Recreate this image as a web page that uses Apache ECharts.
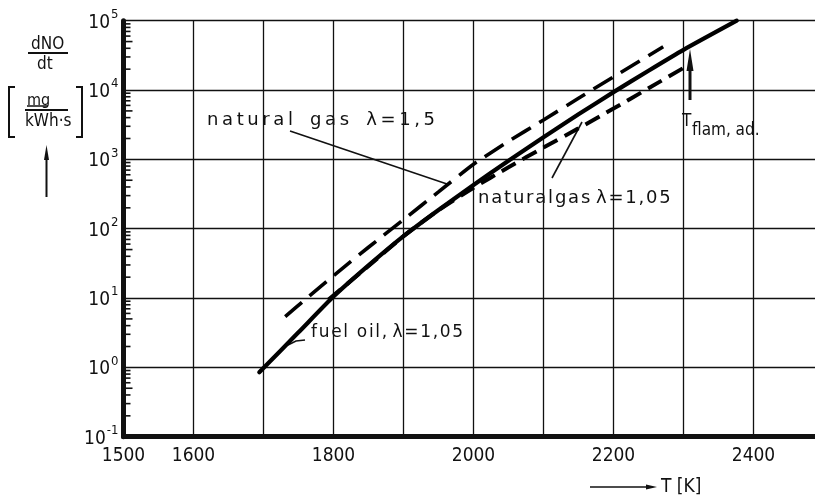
<!DOCTYPE html>
<html>
<head>
<meta charset="utf-8">
<script src="https://cdn.jsdelivr.net/npm/echarts@6/dist/echarts.min.js"></script>
<style>
  html, body { margin: 0; padding: 0; background: #fff; }
  #chart { width: 815px; height: 500px; }
</style>
</head>
<body>
<div id="chart"></div>
<script>
// NO formation rate dNO/dt versus flame temperature T
const xTickLabels = [1500, 1600, 1800, 2000, 2200, 2400];

// fuel oil, lambda = 1.05 (solid)
const fuelOilT   = [1694, 1750, 1800, 1850, 1900, 1950, 2000, 2050, 2100, 2150, 2200, 2250, 2300, 2376];
const fuelOilNO  = [0.85, 3.2, 10.5, 29.5, 78, 186, 427, 955, 2090, 4470, 9330, 19000, 38000, 100000];

// natural gas, lambda = 1.5 (upper dashed)
const gasLeanT   = [1731, 1762, 1800, 1850, 1900, 1950, 2000, 2050, 2100, 2150, 2200, 2271];
const gasLeanNO  = [5.4, 10, 21, 54, 135, 340, 850, 1820, 3700, 7600, 15500, 42000];

// natural gas, lambda = 1.05 (lower dashed)
const gasRichT   = [1793, 1850, 1900, 1950, 2000, 2050, 2100, 2150, 2200, 2250, 2304];
const gasRichNO  = [9.5, 29, 78, 185, 390, 770, 1480, 2800, 5400, 10600, 22000];

// minor log ticks on the left axis: 2..9 within each decade
const decades = [0.1, 1, 10, 100, 1000, 10000];
const mantissas = [2, 3, 4, 5, 6, 7, 8, 9];
const minorTicks = [];
decades.forEach(d => mantissas.forEach(m => minorTicks.push([1500, m * d])));

const pairs = (xs, ys) => xs.map((x, i) => [x, ys[i]]);
// lettering-stencil look: a small space between the characters
const spaced = (s, gap) => s.split('').join(gap || '\u200A');

const FONT = '"Liberation Sans Narrow", "DejaVu Sans Condensed", sans-serif';
const NOTE = '"DejaVu Sans", sans-serif';
const INK = '#111';

const chart = echarts.init(document.getElementById('chart'), null, { renderer: 'canvas' });

chart.setOption({
  animation: false,
  backgroundColor: '#fff',
  grid: {
    left: 123.5, top: 20.7, width: 700, height: 416,
    containLabel: false, outerBoundsMode: 'none', show: false
  },
  xAxis: {
    type: 'value', min: 1500, max: 2500, interval: 100,
    axisLine: { show: true, onZero: false, lineStyle: { color: INK, width: 5 } },
    axisTick: { show: false },
    splitLine: { show: true, lineStyle: { color: INK, width: 1.3 } },
    axisLabel: {
      margin: 10, color: INK, fontFamily: FONT, fontSize: 19,
      formatter: v => (xTickLabels.indexOf(v) >= 0 ? String(v) : '')
    }
  },
  yAxis: {
    type: 'log', logBase: 10, min: 0.1, max: 100000, splitNumber: 6,
    axisLine: { show: true, lineStyle: { color: INK, width: 5 } },
    axisTick: { show: false },
    splitLine: { show: true, lineStyle: { color: INK, width: 1.3 } },
    axisLabel: {
      margin: 5, color: INK,
      formatter: v => {
        const e = Math.round(Math.log10(v));
        return '{b|10}{s|' + (e < 0 ? '-' + (-e) : e) + '}';
      },
      rich: {
        b: { fontFamily: FONT, fontSize: 19, color: INK, padding: [4, 0, 0, 0] },
        s: { fontFamily: FONT, fontSize: 13, color: INK, padding: [0, 0, 12, 1] }
      }
    }
  },
  series: [
    {
      name: 'minor ticks', type: 'custom', silent: true, clip: false, z: 5,
      data: minorTicks,
      renderItem: (params, api) => {
        const v = api.value(1);
        const p = api.coord([api.value(0), v]);
        const m = Math.round(v / Math.pow(10, Math.floor(Math.log10(v) + 1e-9)));
        const len = m === 5 ? 9 : 7;
        return {
          type: 'line',
          shape: { x1: p[0] + 2, y1: p[1], x2: p[0] + len, y2: p[1] },
          style: { stroke: INK, lineWidth: 1.6 }
        };
      }
    },
    {
      name: 'fuel oil, λ=1,05', type: 'line', data: pairs(fuelOilT, fuelOilNO),
      showSymbol: false, smooth: 0.2, clip: false, z: 4,
      lineStyle: { color: '#000', width: 4.2, cap: 'round' }
    },
    {
      name: 'natural gas λ=1,5', type: 'line', data: pairs(gasLeanT, gasLeanNO),
      showSymbol: false, smooth: 0.2, clip: false, z: 3,
      lineStyle: { color: '#000', width: 3.6, type: [22, 10] }
    },
    {
      name: 'natural gas λ=1,05', type: 'line', data: pairs(gasRichT, gasRichNO),
      showSymbol: false, smooth: 0.2, clip: false, z: 3,
      lineStyle: { color: '#000', width: 4, type: [16, 8] }
    }
  ],
  graphic: [
    // y-axis title: dNO/dt [mg / kWh·s] with arrow
    { type: 'text', left: 31, top: 36, style: { text: 'dNO', font: '17px ' + FONT, fill: INK } },
    { type: 'line', shape: { x1: 28, y1: 53, x2: 68, y2: 53 }, style: { stroke: INK, lineWidth: 2 } },
    { type: 'text', left: 37, top: 56, style: { text: 'dt', font: '17px ' + FONT, fill: INK } },
    { type: 'polyline', shape: { points: [[15, 87], [9, 87], [9, 137], [15, 137]] }, style: { stroke: INK, lineWidth: 2, fill: null } },
    { type: 'polyline', shape: { points: [[76, 87], [82, 87], [82, 137], [76, 137]] }, style: { stroke: INK, lineWidth: 2, fill: null } },
    { type: 'text', left: 27, top: 93, style: { text: 'mg', font: '16px ' + FONT, fill: INK } },
    { type: 'line', shape: { x1: 27, y1: 106, x2: 48, y2: 106 }, style: { stroke: INK, lineWidth: 1.5 } },
    { type: 'line', shape: { x1: 25, y1: 110, x2: 68, y2: 110 }, style: { stroke: INK, lineWidth: 2 } },
    { type: 'text', left: 25, top: 113, style: { text: 'kWh·s', font: '17px ' + FONT, fill: INK } },
    { type: 'line', shape: { x1: 46.5, y1: 158, x2: 46.5, y2: 197 }, style: { stroke: INK, lineWidth: 2 } },
    { type: 'polygon', shape: { points: [[44, 160], [49, 160], [46.5, 145]] }, style: { fill: INK } },

    // x-axis title: arrow and T [K]
    { type: 'line', shape: { x1: 590, y1: 487, x2: 650, y2: 487 }, style: { stroke: INK, lineWidth: 1.6 } },
    { type: 'polygon', shape: { points: [[646, 484.5], [646, 489.5], [657, 487]] }, style: { fill: INK } },
    { type: 'text', left: 661, top: 478, style: { text: 'T [K]', font: '19px ' + FONT, fill: INK } },

    // curve annotations
    { type: 'text', left: 207, top: 111, style: { text: spaced('natural', '\u2009') + '   ' + spaced('gas', '\u2009') + '   ' + spaced('λ=1,5', '\u2009'), font: '18px ' + NOTE, fill: INK } },
    { type: 'line', shape: { x1: 290, y1: 131, x2: 447, y2: 184 }, style: { stroke: INK, lineWidth: 1.6 } },

    { type: 'text', left: 478, top: 189, style: { text: spaced('naturalgas') + ' ' + spaced('λ=1,05'), font: '18px ' + NOTE, fill: INK } },
    { type: 'line', shape: { x1: 552, y1: 178, x2: 582, y2: 122 }, style: { stroke: INK, lineWidth: 1.6 } },

    { type: 'text', left: 311, top: 324, style: { text: spaced('fuel oil,') + ' ' + spaced('λ=1,05'), font: '17px ' + NOTE, fill: INK } },
    { type: 'polyline', shape: { points: [[288, 345], [296, 341], [305, 340]] }, style: { stroke: INK, lineWidth: 1.6, fill: null } },

    // adiabatic flame temperature marker
    { type: 'line', shape: { x1: 690, y1: 68, x2: 690, y2: 100 }, style: { stroke: INK, lineWidth: 3 } },
    { type: 'polygon', shape: { points: [[686.5, 71], [693.5, 71], [690, 49]] }, style: { fill: INK } },
    { type: 'text', left: 682, top: 113, style: { text: 'T', font: '17px ' + FONT, fill: INK } },
    { type: 'text', left: 692, top: 122, style: { text: 'flam, ad.', font: '17px ' + FONT, fill: INK } }
  ]
});
</script>
</body>
</html>
